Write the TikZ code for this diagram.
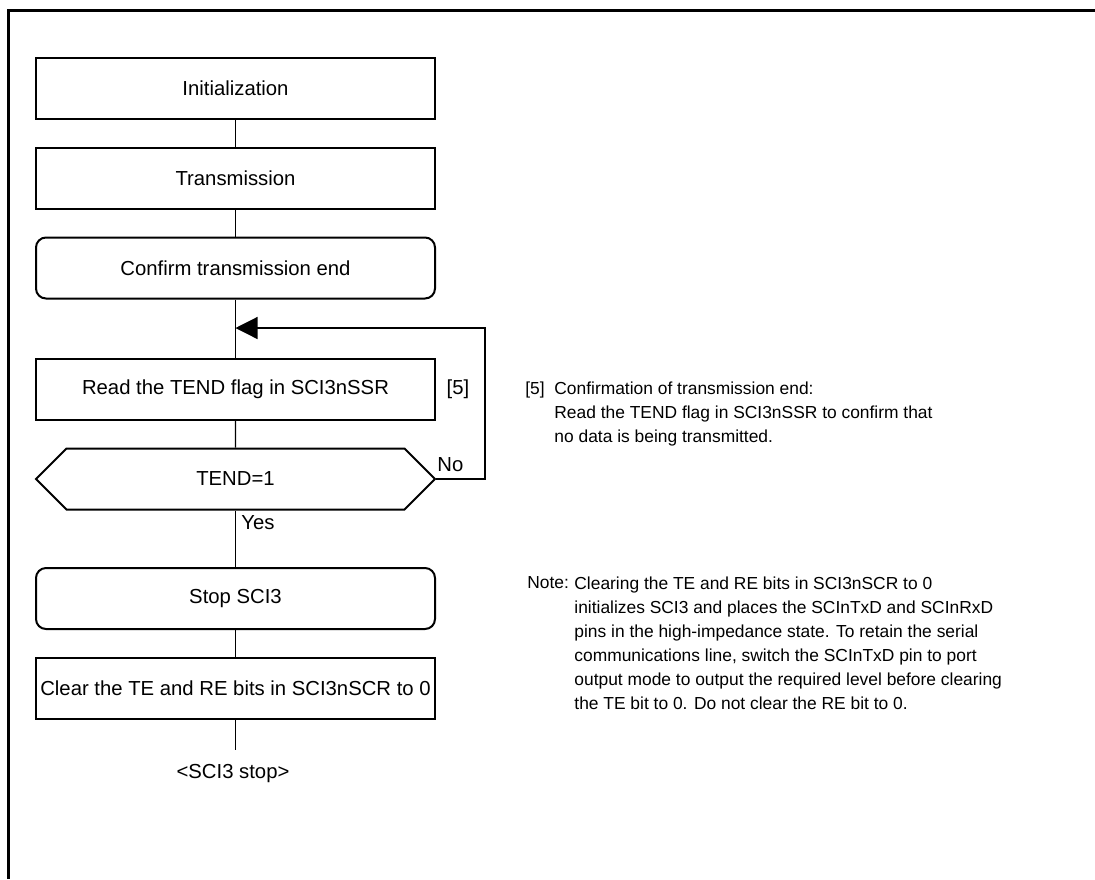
\documentclass[tikz,border=0pt]{standalone}
\usepackage{fontspec}
\setmainfont{Liberation Sans}
\usetikzlibrary{shapes.symbols, arrows.meta, positioning}

\newcommand{\fsz}{\fontsize{10.15pt}{12pt}\selectfont}
\newcommand{\nsz}{\fontsize{8.7pt}{12pt}\selectfont}

\begin{document}
\begin{tikzpicture}[x=0.5pt, y=-0.5pt,
  box/.style      = {rectangle, draw, line width=1pt, minimum width=199.5pt,
                     minimum height=30.5pt, inner sep=0pt, text centered,
                     font=\fsz},
  rbox/.style     = {box, rounded corners=5pt},
  decision/.style = {signal, signal to=west and east, signal pointer angle=90,
                     draw, line width=1pt, minimum width=199.5pt,
                     minimum height=30.5pt, inner sep=0pt, font=\fsz},
  line/.style     = {line width=0.6pt},
  arr/.style      = {line, -{Triangle[length=11pt, width=11pt]}},
  lbl/.style      = {font=\fsz, inner sep=0pt},
  note/.style     = {font=\nsz, inner sep=0pt, align=left}
]
\useasboundingbox (0,0) rectangle (1095,879);
\draw[line width=1.5pt] (1095,10) -- (8,10) -- (8,879);

\node[box]      (init)    at (235.5,88.5)  {Initialization};
\node[box]      (trans)   at (235.5,178.5) {Transmission};
\node[rbox]     (confirm) at (235.5,268)   {Confirm transmission end};
\node[box]      (read)    at (235.5,389)   {Read the TEND flag in SCI3nSSR};
\node[decision] (tend)    at (235.5,479)   {TEND=1};
\node[rbox]     (stop)    at (235.5,598.5) {Stop SCI3};
\node[box]      (clear)   at (235.5,688.5) {Clear the TE and RE bits in SCI3nSCR to 0};

\coordinate (loopin) at (235.5,328);
\coordinate (loopr)  at (485,328);
\coordinate (endpt)  at (235.5,750);

\node[lbl]              (ref5)  at (458,389) {[5]};
\node[lbl, anchor=west] (no)    at (437,465) {No};
\node[lbl, anchor=west] (yes)   at (241,523) {Yes};
\node[lbl]              (sstop) at (233,773) {<SCI3 stop>};

\node[note, anchor=west] (n5)    at (525,390) {[5]};
\node[note, anchor=west] (n5txt) at (554,414)
  {Confirmation of transmission end:\\
   Read the TEND flag in SCI3nSSR to confirm that\\
   no data is being transmitted.};
\node[note, anchor=west] (nhead) at (527,583) {Note:};
\node[note, anchor=west] (ntxt)  at (574,643)
  {Clearing the TE and RE bits in SCI3nSCR to 0\\
   initializes SCI3 and places the SCInTxD and SCInRxD\\
   pins in the high-impedance state. To retain the serial\\
   communications line, switch the SCInTxD pin to port\\
   output mode to output the required level before clearing\\
   the TE bit to 0. Do not clear the RE bit to 0.};

\draw[line] (init) -- (trans);
\draw[line] (trans) -- (confirm);
\draw[line] (confirm) -- (read);
\draw[line] (read) -- (tend);
\draw[line] (tend) -- (stop);
\draw[line] (stop) -- (clear);
\draw[line] (clear) -- (endpt);
\draw[arr] (tend.east) -| (loopr) -- (loopin);
\end{tikzpicture}
\end{document}
